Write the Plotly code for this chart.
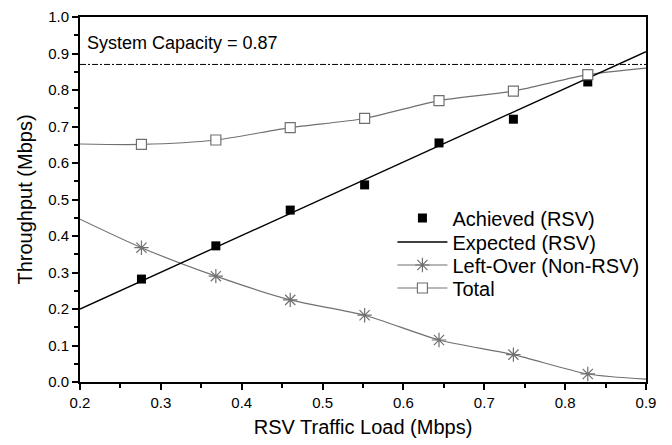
import plotly.graph_objects as go

load = [0.276, 0.368, 0.460, 0.552, 0.644, 0.736, 0.828]
achieved = [0.282, 0.373, 0.471, 0.540, 0.655, 0.720, 0.822]
expected_x = [0.2, 0.9]
expected_y = [0.2, 0.905]
line_x = [0.2, 0.276, 0.368, 0.460, 0.552, 0.644, 0.736, 0.828, 0.9]
leftover = [0.446, 0.368, 0.290, 0.225, 0.183, 0.115, 0.075, 0.022, 0.008]
total = [0.652, 0.651, 0.663, 0.697, 0.722, 0.771, 0.797, 0.842, 0.860]
capacity = 0.87

GRAY = "#707070"
fig = go.Figure()

fig.add_trace(go.Scatter(x=[0.2, 0.9], y=[capacity, capacity], mode="lines",
                         line=dict(color="black", width=1, dash="6px,2px,2px,2px"), showlegend=False))

fig.add_trace(go.Scatter(x=line_x, y=total, mode="lines",
                         line=dict(color=GRAY, width=1.2, shape="spline", smoothing=0.7), showlegend=False))
fig.add_trace(go.Scatter(x=line_x, y=leftover, mode="lines",
                         line=dict(color=GRAY, width=1.2, shape="spline", smoothing=0.7), showlegend=False))
fig.add_trace(go.Scatter(x=expected_x, y=expected_y, mode="lines",
                         line=dict(color="black", width=1.4), showlegend=False))
fig.add_trace(go.Scatter(x=load, y=achieved, mode="markers",
                         marker=dict(symbol="square", color="black", size=9), showlegend=False))
fig.add_trace(go.Scatter(x=load, y=leftover[1:-1], mode="markers",
                         marker=dict(symbol="asterisk-open", color=GRAY, size=12, line=dict(color=GRAY, width=1.2)),
                         showlegend=False))
fig.add_trace(go.Scatter(x=load, y=total[1:-1], mode="markers",
                         marker=dict(symbol="square", color="white", size=10, line=dict(color=GRAY, width=1.2)),
                         showlegend=False))

# legend entries (one legend each so rows can be spaced like the original)
leg_names = ["Achieved (RSV)", "Expected (RSV)", "Left-Over (Non-RSV)", "Total"]
fig.add_trace(go.Scatter(x=[None], y=[None], mode="markers", name=leg_names[0], legend="legend",
                         marker=dict(symbol="square", color="black", size=9)))
fig.add_trace(go.Scatter(x=[None], y=[None], mode="lines", name=leg_names[1], legend="legend2",
                         line=dict(color="black", width=1.4)))
fig.add_trace(go.Scatter(x=[None], y=[None], mode="lines+markers", name=leg_names[2], legend="legend3",
                         line=dict(color=GRAY, width=1.2),
                         marker=dict(symbol="asterisk-open", color=GRAY, size=12, line=dict(color=GRAY, width=1.2))))
fig.add_trace(go.Scatter(x=[None], y=[None], mode="lines+markers", name=leg_names[3], legend="legend4",
                         line=dict(color=GRAY, width=1.2),
                         marker=dict(symbol="square", color="white", size=10, line=dict(color=GRAY, width=1.2))))

fig.add_annotation(x=0.0, y=0.93, xref="paper", yref="y", xanchor="left", yanchor="middle",
                   text="System Capacity = 0.87", showarrow=False, xshift=5,
                   font=dict(size=18, color="black"))

axis_common = dict(showgrid=False, zeroline=False, showline=True, linecolor="black", linewidth=2,
                   mirror=True, ticks="outside", ticklen=6, tickwidth=1.5, tickcolor="black",
                   tickfont=dict(size=15, color="black"), automargin=False)
fig.update_xaxes(range=[0.2, 0.9], dtick=0.1, tickformat=".1f",
                 title=dict(text="RSV Traffic Load (Mbps)", font=dict(size=20, color="black"), standoff=10),
                 minor=dict(dtick=0.05, ticks="outside", ticklen=4, tickcolor="black", tickwidth=1.5),
                 **axis_common)
fig.update_yaxes(range=[0, 1.0], dtick=0.1, tickformat=".1f",
                 title=dict(text="Throughput (Mbps)", font=dict(size=20, color="black"), standoff=10),
                 minor=dict(dtick=0.05, ticks="outside", ticklen=4, tickcolor="black", tickwidth=1.5),
                 **axis_common)

leg_common = dict(xanchor="left", yanchor="middle", bgcolor="rgba(0,0,0,0)",
                  font=dict(size=20, color="black"), itemwidth=50)
rows_px = [218, 242, 265, 288]
def ypaper(py):
    return (382 - py) / 365.0
lx = 0.552
fig.update_layout(width=672, height=445, margin=dict(l=80, r=26, t=17, b=63),
                  plot_bgcolor="white", paper_bgcolor="white",
                  font=dict(family="Arial, Liberation Sans, sans-serif", color="black"),
                  legend=dict(x=lx, y=ypaper(rows_px[0]), **leg_common),
                  legend2=dict(x=lx, y=ypaper(rows_px[1]), **leg_common),
                  legend3=dict(x=lx, y=ypaper(rows_px[2]), **leg_common),
                  legend4=dict(x=lx, y=ypaper(rows_px[3]), **leg_common))

fig.write_html("out.html", config={"displayModeBar": False},
               post_script="document.body.style.margin='0';document.documentElement.style.margin='0';")
